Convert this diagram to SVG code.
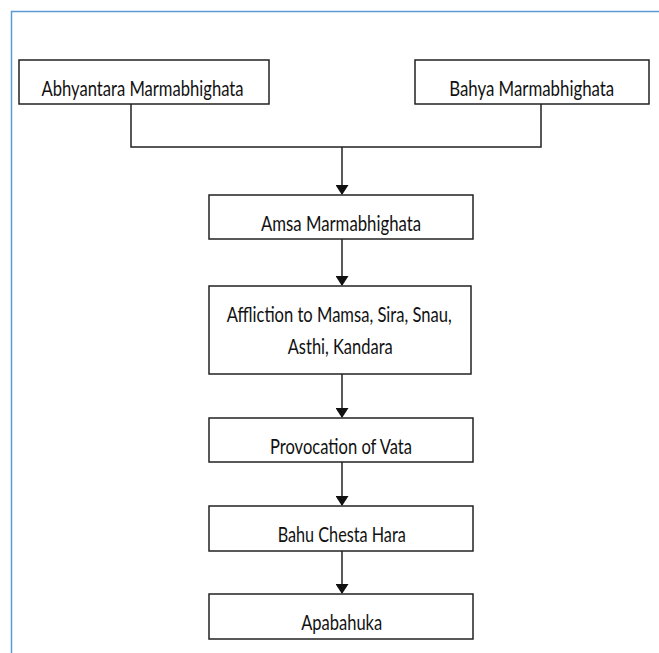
<svg xmlns="http://www.w3.org/2000/svg" width="659" height="653" viewBox="0 0 659 653">
<style>
.box{fill:#fff;stroke:#222;stroke-width:1.5}
.t{font-family:Lato,"Open Sans","Liberation Sans",sans-serif;font-size:21px;fill:#111;text-anchor:middle}
.c{fill:none;stroke:#222;stroke-width:1.5}
</style>
<defs>
<marker id="ah" markerWidth="10" markerHeight="13" refX="9" refY="6.5" orient="auto" markerUnits="userSpaceOnUse">
<path d="M0,0 L10,6.5 L0,13 Z" fill="#111"/>
</marker>
</defs>
<rect width="659" height="653" fill="#fff"/>
<path d="M11.5,653 V11.5 H659" fill="none" stroke="#5b9bd5" stroke-width="1.5"/>
<g id="connectors">
<path class="c" d="M131,104 V147 H541 V104"/>
<path class="c" d="M342,147 V194" marker-end="url(#ah)"/>
<path class="c" d="M342,239 V285" marker-end="url(#ah)"/>
<path class="c" d="M342,374 V417" marker-end="url(#ah)"/>
<path class="c" d="M342,462 V505" marker-end="url(#ah)"/>
<path class="c" d="M342,551 V593" marker-end="url(#ah)"/>
</g>
<g id="n1"><rect class="box" x="19" y="60" width="250" height="44"/><text class="t" x="142.5" y="95.5" textLength="202" lengthAdjust="spacingAndGlyphs">Abhyantara Marmabhighata</text></g>
<g id="n2"><rect class="box" x="415" y="60" width="234" height="44"/><text class="t" x="531.7" y="95.5" textLength="165" lengthAdjust="spacingAndGlyphs">Bahya Marmabhighata</text></g>
<g id="n3"><rect class="box" x="209" y="195" width="264" height="44"/><text class="t" x="341" y="230.5" textLength="160" lengthAdjust="spacingAndGlyphs">Amsa Marmabhighata</text></g>
<g id="n4"><rect class="box" x="209" y="286" width="262" height="88"/><text class="t" x="339.2" y="322" textLength="225" lengthAdjust="spacingAndGlyphs">Affliction to Mamsa, Sira, Snau,</text><text class="t" x="340.2" y="353.5" textLength="105" lengthAdjust="spacingAndGlyphs">Asthi, Kandara</text></g>
<g id="n5"><rect class="box" x="209" y="418" width="264" height="44"/><text class="t" x="341" y="453.5" textLength="142" lengthAdjust="spacingAndGlyphs">Provocation of Vata</text></g>
<g id="n6"><rect class="box" x="209" y="506" width="264" height="45"/><text class="t" x="341.7" y="541.5" textLength="128" lengthAdjust="spacingAndGlyphs">Bahu Chesta Hara</text></g>
<g id="n7"><rect class="box" x="209" y="594" width="264" height="45"/><text class="t" x="341.7" y="629.5" textLength="81" lengthAdjust="spacingAndGlyphs">Apabahuka</text></g>
</svg>
